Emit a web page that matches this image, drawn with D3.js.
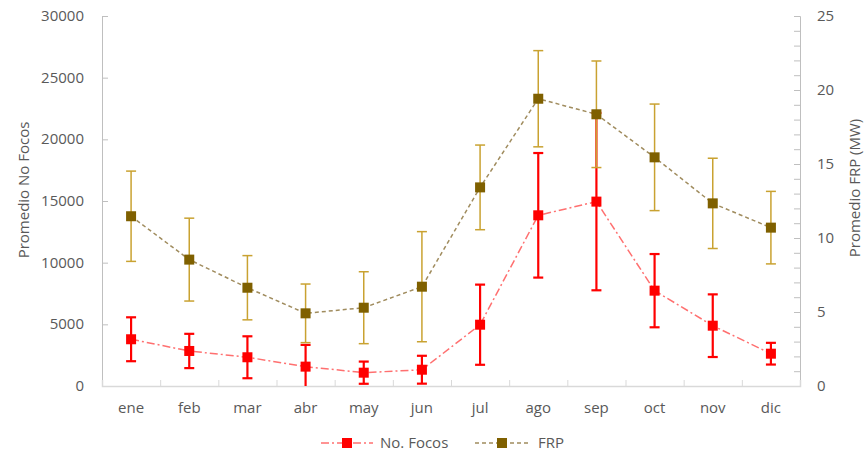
<!DOCTYPE html>
<html>
<head>
<meta charset="utf-8">
<script src="https://cdn.jsdelivr.net/npm/d3@7"></script>
<style>
  body { margin: 0; background: #fff; }
  text { font-family: "Open Sans", sans-serif; fill: #595959; }
</style>
</head>
<body>
<script>
// Monthly fire hotspots (left axis) and FRP (right axis), mean +/- sd
var months = ["ene", "feb", "mar", "abr", "may", "jun", "jul", "ago", "sep", "oct", "nov", "dic"];
var focos    = [3790, 2840, 2330, 1570, 1080, 1320, 4970, 13840, 14950, 7730, 4890, 2620];
var focosErr = [1780, 1390, 1700, 1760, 900, 1130, 3250, 5050, 7190, 2970, 2540, 880];
var frp      = [11.47, 8.54, 6.64, 4.91, 5.29, 6.71, 13.42, 19.41, 18.36, 15.45, 12.34, 10.7];
var frpErr   = [3.05, 2.8, 2.17, 1.98, 2.43, 3.72, 2.86, 3.25, 3.6, 3.6, 3.05, 2.45];
var leftTicks  = [0, 5000, 10000, 15000, 20000, 25000, 30000];
var rightTicks = [0, 5, 10, 15, 20, 25];

(function() {
  var width = 865, height = 454,
      left = 102, right = 800, top = 16, bottom = 386;

  var svg = d3.select("body").append("svg")
      .attr("width", width)
      .attr("height", height);

  var x = d3.scaleBand().domain(months).range([left, right]);
  var yL = d3.scaleLinear().domain([0, 30000]).range([bottom, top]);
  var yR = d3.scaleLinear().domain([0, 25]).range([bottom, top]);

  // left axis
  var axL = svg.append("g").attr("transform", "translate(" + left + ",0)")
      .call(d3.axisRight(yL).tickValues(leftTicks).tickSize(6).tickFormat(""));
  axL.selectAll("line, path").attr("stroke", "#bfbfbf");
  svg.selectAll(".lbl-l").data(leftTicks).enter().append("text")
      .attr("x", 84).attr("y", function(d) { return yL(d) + 5; })
      .attr("text-anchor", "end").style("font-size", "15px")
      .text(function(d) { return d; });

  // right axis, minor ticks every 1
  var axR = svg.append("g").attr("transform", "translate(" + right + ",0)")
      .call(d3.axisLeft(yR).ticks(25).tickSize(6).tickFormat(""));
  axR.selectAll("line, path").attr("stroke", "#bfbfbf");
  svg.selectAll(".lbl-r").data(rightTicks).enter().append("text")
      .attr("x", 817).attr("y", function(d) { return yR(d) + 5; })
      .style("font-size", "15px")
      .text(function(d) { return d; });

  // bottom axis
  var axB = svg.append("g").attr("transform", "translate(0," + bottom + ")")
      .call(d3.axisTop(d3.scaleLinear().domain([0, 12]).range([left, right]))
        .ticks(12).tickSize(6).tickFormat(""));
  axB.selectAll("line, path").attr("stroke", "#d9d9d9");
  axB.select("path").attr("stroke-width", 1.5);
  svg.selectAll(".lbl-x").data(months).enter().append("text")
      .attr("x", function(d) { return x(d) + x.bandwidth() / 2; })
      .attr("y", 413).attr("text-anchor", "middle").style("font-size", "15px")
      .text(function(d) { return d; });

  // axis titles
  svg.append("text").attr("transform", "translate(29,190) rotate(-90)")
      .attr("text-anchor", "middle").style("font-size", "15px").text("Promedio No Focos");
  svg.append("text").attr("transform", "translate(860,188) rotate(-90)")
      .attr("text-anchor", "middle").style("font-size", "15px").text("Promedio FRP (MW)");

  function cx(i) { return x(months[i]) + x.bandwidth() / 2; }

  function drawSeries(vals, errs, y, lineColor, dash, barColor, barW, markColor) {
    var g = svg.append("g");
    g.append("path")
      .datum(vals)
      .attr("fill", "none")
      .attr("stroke", lineColor)
      .attr("stroke-width", 1.5)
      .attr("stroke-dasharray", dash)
      .attr("d", d3.line().x(function(d, i) { return cx(i); }).y(function(d) { return y(d); }));
    vals.forEach(function(v, i) {
      var lo = y(Math.max(0, v - errs[i])), hi = y(v + errs[i]);
      g.append("line").attr("x1", cx(i)).attr("x2", cx(i)).attr("y1", lo).attr("y2", hi)
        .attr("stroke", barColor).attr("stroke-width", barW);
      if (v - errs[i] > 0) {
        g.append("line").attr("x1", cx(i) - 5).attr("x2", cx(i) + 5).attr("y1", lo).attr("y2", lo)
          .attr("stroke", barColor).attr("stroke-width", barW);
      }
      g.append("line").attr("x1", cx(i) - 5).attr("x2", cx(i) + 5).attr("y1", hi).attr("y2", hi)
        .attr("stroke", barColor).attr("stroke-width", barW);
    });
    g.selectAll("rect").data(vals).enter().append("rect")
      .attr("x", function(d, i) { return cx(i) - 5; })
      .attr("y", function(d) { return y(d) - 5; })
      .attr("width", 10).attr("height", 10)
      .attr("fill", markColor);
  }

  drawSeries(focos, focosErr, yL, "#ff7070", "8,3,2,3", "#ff0000", 2.2, "#ff0000");
  drawSeries(frp, frpErr, yR, "#a08c5e", "4,3", "#c9a231", 1.5, "#7f6000");

  // legend
  var lg = svg.append("g");
  lg.append("line").attr("x1", 321).attr("x2", 373).attr("y1", 443).attr("y2", 443)
    .attr("stroke", "#ff7070").attr("stroke-width", 1.5).attr("stroke-dasharray", "8,3,2,3");
  lg.append("rect").attr("x", 342).attr("y", 438).attr("width", 10).attr("height", 10).attr("fill", "#ff0000");
  lg.append("text").attr("x", 380).attr("y", 448).style("font-size", "15px").text("No. Focos");
  lg.append("line").attr("x1", 475).attr("x2", 529).attr("y1", 443).attr("y2", 443)
    .attr("stroke", "#a08c5e").attr("stroke-width", 1.5).attr("stroke-dasharray", "4,3");
  lg.append("rect").attr("x", 497).attr("y", 438).attr("width", 10).attr("height", 10).attr("fill", "#7f6000");
  lg.append("text").attr("x", 538).attr("y", 448).style("font-size", "15px").text("FRP");
})();
</script>
</body>
</html>
